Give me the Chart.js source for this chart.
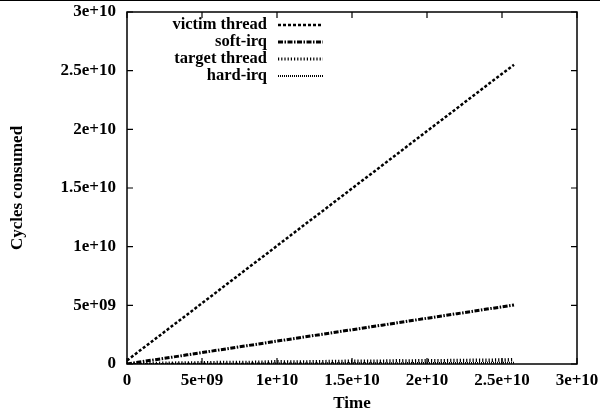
<!DOCTYPE html>
<html><head><meta charset="utf-8">
<script src="https://cdn.jsdelivr.net/npm/chart.js@4/dist/chart.umd.min.js"></script>
<style>html,body{margin:0;padding:0;background:#fff}#wrap{width:600px;height:414px}</style>
</head><body><div id="wrap"><canvas id="c" width="600" height="414"></canvas></div>
<script>
const timeValues = [0, 1e9, 2e9, 3e9, 4e9, 5e9, 6e9, 7e9, 8e9, 9e9, 10e9, 11e9, 12e9, 13e9, 14e9, 15e9, 16e9, 17e9, 18e9, 19e9, 20e9, 21e9, 22e9, 23e9, 24e9, 25e9, 25.8e9];
const victimThread = [0.3e9, 1.28e9, 2.25e9, 3.23e9, 4.2e9, 5.18e9, 6.16e9, 7.14e9, 8.12e9, 9.09e9, 10.07e9, 11.05e9, 12.03e9, 13.0e9, 13.98e9, 14.96e9, 15.94e9, 16.91e9, 17.89e9, 18.87e9, 19.85e9, 20.82e9, 21.8e9, 22.78e9, 23.76e9, 24.73e9, 25.5e9];
const softIrq = [0, 0.2e9, 0.39e9, 0.58e9, 0.78e9, 0.97e9, 1.17e9, 1.36e9, 1.56e9, 1.75e9, 1.95e9, 2.14e9, 2.34e9, 2.53e9, 2.73e9, 2.92e9, 3.12e9, 3.31e9, 3.51e9, 3.7e9, 3.9e9, 4.09e9, 4.29e9, 4.48e9, 4.68e9, 4.87e9, 5.03e9];
const targetThread = [0.02e9, 0.04e9, 0.05e9, 0.07e9, 0.09e9, 0.1e9, 0.12e9, 0.13e9, 0.13e9, 0.15e9, 0.19e9, 0.17e9, 0.18e9, 0.2e9, 0.21e9, 0.24e9, 0.23e9, 0.24e9, 0.27e9, 0.26e9, 0.29e9, 0.28e9, 0.3e9, 0.31e9, 0.32e9, 0.34e9, 0.36e9];
const hardIrq = [0, 0.004e9, 0.008e9, 0.012e9, 0.016e9, 0.02e9, 0.024e9, 0.028e9, 0.032e9, 0.036e9, 0.04e9, 0.044e9, 0.048e9, 0.052e9, 0.056e9, 0.06e9, 0.064e9, 0.068e9, 0.072e9, 0.076e9, 0.08e9, 0.084e9, 0.088e9, 0.092e9, 0.096e9, 0.1e9, 0.103e9];
const seriesLabels = ['victim thread', 'soft-irq', 'target thread', 'hard-irq'];
const tickValues = [0, 5e9, 1e10, 1.5e10, 2e10, 2.5e10, 3e10];
const xTickLabels = ['0', '5e+09', '1e+10', '1.5e+10', '2e+10', '2.5e+10', '3e+10'];
const yTickLabels = ['0', '5e+09', '1e+10', '1.5e+10', '2e+10', '2.5e+10', '3e+10'];

const FAMILY = '"Liberation Serif", "Times New Roman", serif';
const FONT = {family: FAMILY, size: 17, weight: 'bold'};
const styles = [
  {dash: [3, 2], width: 2.5},
  {dash: [5, 1.5, 1.5, 1.5], width: 3},
  {dash: [1.2, 2], width: 3.5},
  {dash: [1, 1], width: 2}
];
const seriesData = [victimThread, softIrq, targetThread, hardIrq];

const datasets = seriesData.map((arr, i) => ({
  label: seriesLabels[i],
  data: arr.map((v, j) => ({x: timeValues[j], y: v})),
  borderColor: '#000',
  backgroundColor: '#000',
  borderWidth: styles[i].width,
  borderDash: styles[i].dash,
  pointRadius: 0,
  fill: false,
  tension: 0
}));

const framePlugin = {
  id: 'frame',
  afterDraw(chart) {
    const ctx = chart.ctx, a = chart.chartArea;
    const xs = chart.scales.x, ys = chart.scales.y;
    ctx.save();
    ctx.strokeStyle = '#000';
    ctx.lineWidth = 1;
    ctx.beginPath(); ctx.moveTo(0, 0.5); ctx.lineTo(600, 0.5); ctx.stroke();
    ctx.lineWidth = 1.5;
    ctx.strokeRect(a.left, a.top, a.right - a.left, a.bottom - a.top);
    const tl = 6;
    ctx.lineWidth = 1.2;
    ctx.beginPath();
    tickValues.forEach(v => {
      const px = xs.getPixelForValue(v);
      ctx.moveTo(px, a.bottom); ctx.lineTo(px, a.bottom - tl);
      ctx.moveTo(px, a.top); ctx.lineTo(px, a.top + tl);
      const py = ys.getPixelForValue(v);
      ctx.moveTo(a.left, py); ctx.lineTo(a.left + tl, py);
      ctx.moveTo(a.right, py); ctx.lineTo(a.right - tl, py);
    });
    ctx.stroke();
    // legend
    ctx.font = 'bold 16.5px ' + FAMILY;
    ctx.fillStyle = '#000';
    ctx.textAlign = 'right';
    ctx.textBaseline = 'middle';
    chart.data.datasets.forEach((ds, i) => {
      const y = 25 + i * 17;
      ctx.fillText(ds.label, 267, y);
      ctx.beginPath();
      ctx.setLineDash(ds.borderDash);
      ctx.lineWidth = Math.min(ds.borderWidth, 3);
      ctx.moveTo(278, y); ctx.lineTo(323, y);
      ctx.stroke();
      ctx.setLineDash([]);
    });
    ctx.restore();
  }
};

new Chart(document.getElementById('c'), {
  type: 'line',
  data: {datasets},
  options: {
    responsive: false,
    animation: false,
    layout: {padding: {top: 12, right: 23, left: 0, bottom: 0}},
    plugins: {legend: {display: false}, tooltip: {enabled: false}},
    scales: {
      x: {
        type: 'linear', min: 0, max: 3e10,
        afterBuildTicks: s => { s.ticks = tickValues.map(v => ({value: v})); },
        afterFit: s => { s.height = 50; s.paddingLeft = 0; s.paddingRight = 0; },
        ticks: {callback: (v, i) => xTickLabels[i], font: FONT, color: '#000', padding: 6, maxRotation: 0, autoSkip: false},
        grid: {display: false, drawTicks: false},
        border: {display: false},
        title: {display: true, text: 'Time', font: FONT, color: '#000', padding: {top: 0, bottom: 0}}
      },
      y: {
        type: 'linear', min: 0, max: 3e10,
        afterBuildTicks: s => { s.ticks = tickValues.map(v => ({value: v})); },
        afterFit: s => { s.width = 127; s.paddingTop = 0; s.paddingBottom = 0; },
        ticks: {callback: (v, i) => yTickLabels[i], font: FONT, color: '#000', padding: 11, autoSkip: false},
        grid: {display: false, drawTicks: false},
        border: {display: false},
        title: {display: true, text: 'Cycles consumed', font: FONT, color: '#000', padding: {top: 7, bottom: 0}}
      }
    }
  },
  plugins: [framePlugin]
});
</script>
</body></html>
